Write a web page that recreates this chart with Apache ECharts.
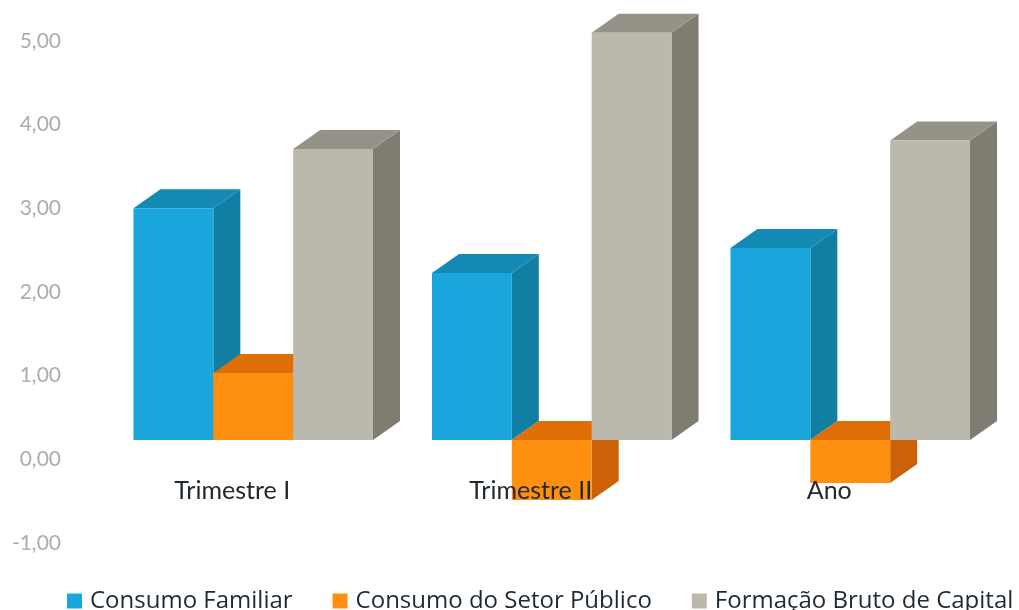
<!DOCTYPE html>
<html><head><meta charset="utf-8">
<style>html,body{margin:0;padding:0;background:#fff}#c{width:1019px;height:610px}</style>
<script src="https://cdn.jsdelivr.net/npm/echarts@6/dist/echarts.min.js"></script>
</head><body><div id="c"></div>
<script>
const categories = ['Trimestre I', 'Trimestre II', 'Ano'];
const seriesNames = ['Consumo Familiar', 'Consumo do Setor Público', 'Formação Bruto de Capital'];
const consumoFamiliar = [2.97, 2.14, 2.46];
const consumoPublico = [0.86, -0.77, -0.55];
const formacaoBruto = [3.73, 5.22, 3.84];
const allValues = [consumoFamiliar, consumoPublico, formacaoBruto];
const faces = [
  {front:'#18a6dc', top:'#1489b3', side:'#117ea3'},
  {front:'#ff8f0f', top:'#de6e05', side:'#cc6208'},
  {front:'#bbb9ae', top:'#959387', side:'#7f7d72'}
];
const DX = 27, DY = -19, GROUP_SHIFT = 21;

function renderItem(params, api) {
  const si = params.seriesIndex;
  const c = faces[si];
  const base = api.coord([api.value(0), 0]);
  const tip = api.coord([api.value(0), api.value(1)]);
  const w = api.size([1, 0])[0] * 0.2675;
  const x0 = base[0] + GROUP_SHIFT + (si - 1.5) * w;
  const x1 = x0 + w;
  const yTop = Math.min(base[1], tip[1]);
  const yBot = Math.max(base[1], tip[1]);
  const poly = (pts, fill) => ({type:'polygon', shape:{points:pts}, style:{fill:fill}, silent:true});
  return {type:'group', children:[
    poly([[x1,yTop],[x1+DX,yTop+DY],[x1+DX,yBot+DY],[x1,yBot]], c.side),
    poly([[x0,yTop],[x1,yTop],[x1+DX,yTop+DY],[x0+DX,yTop+DY]], c.top),
    poly([[x0,yTop],[x1,yTop],[x1,yBot],[x0,yBot]], c.front)
  ]};
}

const chart = echarts.init(document.getElementById('c'), null, {renderer:'canvas'});
chart.setOption({
  animation:false,
  backgroundColor:'#fff',
  grid:{left:83, width:895.5, top:41, height:502, containLabel:false},
  legend:{
    left:67, top:589, itemWidth:15, itemHeight:15, itemGap:40,
    icon:'rect', padding:0,
    textStyle:{fontFamily:'Open Sans', fontSize:24, color:'#1f2a33', padding:[0,0,0,3]},
    data:seriesNames
  },
  xAxis:{
    type:'category', data:categories, position:'bottom', offset:-65, z:10,
    axisLine:{show:false}, axisTick:{show:false}, splitLine:{show:false},
    axisLabel:{fontFamily:'Lato', fontSize:25, color:'#222a30', margin:0, interval:0}
  },
  yAxis:[
    {type:'value', min:-1, max:5, interval:1, axisLine:{show:false}, axisTick:{show:false}, splitLine:{show:false},
     axisLabel:{fontFamily:'Lato', fontSize:21, color:'#adadad', margin:22, formatter:v=>v.toFixed(2).replace('.',',')}},
    {type:'value', min:-1.3205, max:5.1154, show:false, splitLine:{show:false}}
  ],
  series:allValues.map((vals,i)=>({
    name:seriesNames[i], type:'custom', coordinateSystem:'cartesian2d', yAxisIndex:1, xAxisIndex:0,
    renderItem:renderItem, clip:false, z:1,
    itemStyle:{color:faces[i].front},
    encode:{x:0,y:1},
    data:vals.map((v,j)=>[j,v])
  }))
});
</script></body></html>
